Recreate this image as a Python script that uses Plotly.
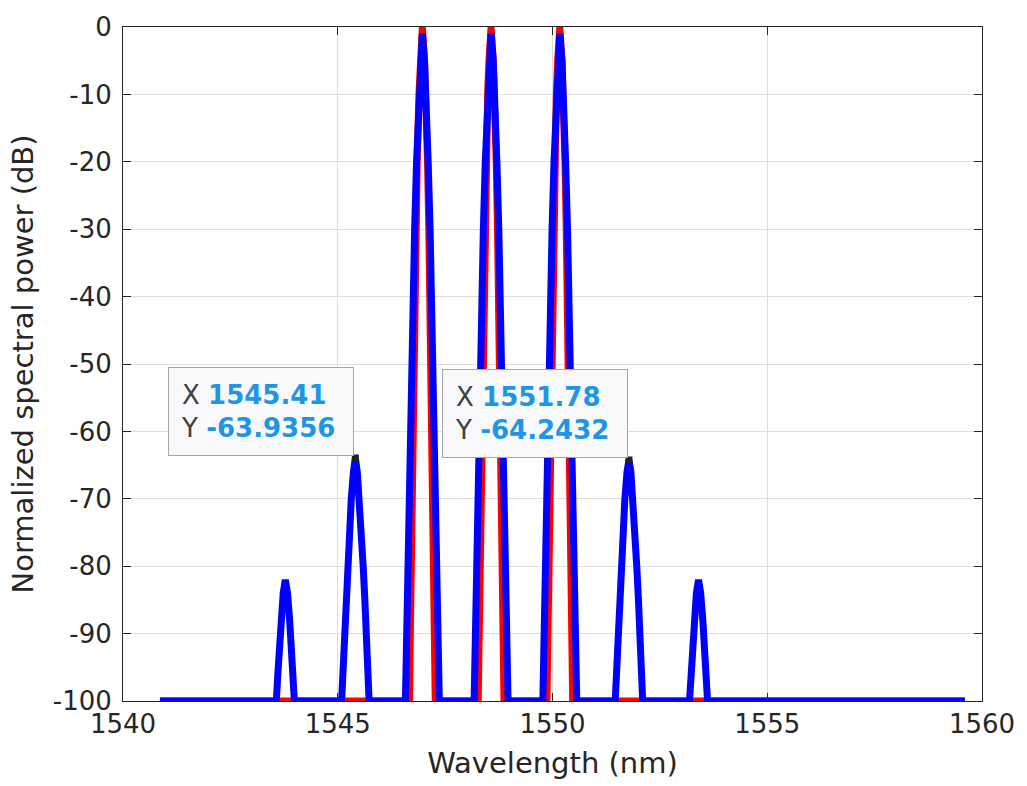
import plotly.graph_objects as go

# ---- data ----
# Blue trace (wavelength in nm, normalized power in dB)
blue_wl = [
    1540.86,
    1543.57, 1543.605, 1543.64, 1543.68, 1543.73, 1543.78, 1543.83, 1543.88, 1543.92, 1543.955, 1543.99,
    1545.09, 1545.122, 1545.155, 1545.189, 1545.228, 1545.268, 1545.315, 1545.365, 1545.41,
    1545.455, 1545.505, 1545.552, 1545.592, 1545.631, 1545.665, 1545.698, 1545.73,
    1546.575, 1546.602, 1546.63, 1546.66, 1546.69, 1546.72, 1546.755, 1546.79, 1546.835, 1546.885, 1546.92, 1546.97,
    1547.02, 1547.055, 1547.105, 1547.15, 1547.185, 1547.22, 1547.25, 1547.28, 1547.31, 1547.338, 1547.365,
    1548.175, 1548.202, 1548.23, 1548.26, 1548.29, 1548.32, 1548.355, 1548.39, 1548.435, 1548.485, 1548.52, 1548.57,
    1548.62, 1548.655, 1548.705, 1548.75, 1548.785, 1548.82, 1548.85, 1548.88, 1548.91, 1548.938, 1548.965,
    1549.775, 1549.802, 1549.83, 1549.86, 1549.89, 1549.92, 1549.955, 1549.99, 1550.035, 1550.085, 1550.12, 1550.17,
    1550.22, 1550.255, 1550.305, 1550.35, 1550.385, 1550.42, 1550.45, 1550.48, 1550.51, 1550.538, 1550.565,
    1551.46, 1551.492, 1551.525, 1551.559, 1551.598, 1551.638, 1551.685, 1551.735, 1551.78,
    1551.825, 1551.875, 1551.922, 1551.962, 1552.001, 1552.035, 1552.068, 1552.1,
    1553.19, 1553.225, 1553.26, 1553.30, 1553.35, 1553.40, 1553.45, 1553.50, 1553.54, 1553.575, 1553.61,
    1559.60,
]
blue_db = [
    -100,
    -100, -96, -92, -88, -84, -82, -84, -88, -92, -96, -100,
    -100, -95, -90, -85, -80, -75, -70, -66, -63.9356,
    -66, -70, -75, -80, -85, -90, -95, -100,
    -100, -90, -80, -70, -60, -50, -40, -30, -20, -10, -5, -1,
    -5, -10, -20, -30, -40, -50, -60, -70, -80, -90, -100,
    -100, -90, -80, -70, -60, -50, -40, -30, -20, -10, -5, -1,
    -5, -10, -20, -30, -40, -50, -60, -70, -80, -90, -100,
    -100, -90, -80, -70, -60, -50, -40, -30, -20, -10, -5, -1,
    -5, -10, -20, -30, -40, -50, -60, -70, -80, -90, -100,
    -100, -95, -90, -85, -80, -75, -70, -66, -64.2432,
    -66, -70, -75, -80, -85, -90, -95, -100,
    -100, -96, -92, -88, -84, -82, -84, -88, -92, -96, -100,
    -100,
]

# Red trace (three main channels only)
red_wl = [
    1540.86,
    1546.67, 1546.69, 1546.71, 1546.735, 1546.76, 1546.775, 1546.795, 1546.82, 1546.85, 1546.89, 1546.92, 1546.97,
    1547.02, 1547.05, 1547.09, 1547.12, 1547.145, 1547.165, 1547.18, 1547.205, 1547.23, 1547.25, 1547.27,
    1548.27, 1548.29, 1548.31, 1548.335, 1548.36, 1548.375, 1548.395, 1548.42, 1548.45, 1548.49, 1548.52, 1548.57,
    1548.62, 1548.65, 1548.69, 1548.72, 1548.745, 1548.765, 1548.78, 1548.805, 1548.83, 1548.85, 1548.87,
    1549.87, 1549.89, 1549.91, 1549.935, 1549.96, 1549.975, 1549.995, 1550.02, 1550.05, 1550.09, 1550.12, 1550.17,
    1550.22, 1550.25, 1550.29, 1550.32, 1550.345, 1550.365, 1550.38, 1550.405, 1550.43, 1550.45, 1550.47,
    1559.60,
]
red_db = [
    -100,
    -100, -90, -80, -70, -60, -50, -40, -30, -20, -10, -5, 0,
    -5, -10, -20, -30, -40, -50, -60, -70, -80, -90, -100,
    -100, -90, -80, -70, -60, -50, -40, -30, -20, -10, -5, 0,
    -5, -10, -20, -30, -40, -50, -60, -70, -80, -90, -100,
    -100, -90, -80, -70, -60, -50, -40, -30, -20, -10, -5, 0,
    -5, -10, -20, -30, -40, -50, -60, -70, -80, -90, -100,
    -100,
]

# Data tips
tip_x = [1545.41, 1551.78]
tip_y = [-63.9356, -64.2432]
tip_x_labels = ["1545.41", "1551.78"]
tip_y_labels = ["-63.9356", "-64.2432"]

x_ticks = [1540, 1545, 1550, 1555, 1560]
y_ticks = [-100, -90, -80, -70, -60, -50, -40, -30, -20, -10, 0]

AX = "#262626"
FONT = "DejaVu Sans"

fig = go.Figure()
fig.add_trace(go.Scatter(x=red_wl, y=red_db, mode="lines",
                         line=dict(color="#ff0000", width=7),
                         cliponaxis=False, showlegend=False, hoverinfo="skip"))
fig.add_trace(go.Scatter(x=blue_wl, y=blue_db, mode="lines",
                         line=dict(color="#0000ff", width=7),
                         cliponaxis=False, showlegend=False, hoverinfo="skip"))
fig.add_trace(go.Scatter(x=tip_x, y=tip_y, mode="markers",
                         marker=dict(symbol="square", size=7, color="#222222"),
                         cliponaxis=False, showlegend=False, hoverinfo="skip"))

for tx, ty, lx, ly in zip(tip_x, tip_y, tip_x_labels, tip_y_labels):
    fig.add_annotation(
        x=tx, y=ty, xref="x", yref="y", xanchor="right", yanchor="bottom",
        showarrow=False, align="left", valign="middle", yshift=2, xshift=-1,
        text=(f"X <b><span style='color:#1E96E6'>{lx}</span></b><br>"
              f"Y <b><span style='color:#1E96E6'>{ly}</span></b>"),
        font=dict(family=FONT, size=26, color="#404040"),
        bgcolor="#f9f9fb", bordercolor="#a6a6a6", borderwidth=1,
        borderpad=12, width=160, height=63,
    )

fig.update_layout(
    width=1027, height=786,
    margin=dict(l=123, r=42, t=20, b=85),
    paper_bgcolor="white", plot_bgcolor="white",
    font=dict(family=FONT, color=AX),
)
fig.update_xaxes(
    range=[1540, 1560], tickvals=x_ticks, ticktext=[str(v) for v in x_ticks],
    showline=True, linecolor=AX, linewidth=1, mirror="ticks",
    ticks="inside", ticklen=8, tickcolor=AX,
    showgrid=True, gridcolor="#dedede", gridwidth=1, zeroline=False,
    tickfont=dict(family=FONT, size=26, color=AX),
    title=dict(text="Wavelength (nm)", font=dict(family=FONT, size=29, color=AX), standoff=14),
)
fig.update_yaxes(
    range=[-100, 0], tickvals=y_ticks, ticktext=[str(v) for v in y_ticks],
    showline=True, linecolor=AX, linewidth=1, mirror="ticks",
    ticks="inside", ticklen=8, tickcolor=AX, ticklabelstandoff=5,
    showgrid=True, gridcolor="#dedede", gridwidth=1, zeroline=False,
    tickfont=dict(family=FONT, size=26, color=AX),
    title=dict(text="Normalized spectral power (dB)", font=dict(family=FONT, size=29, color=AX), standoff=10),
)

fig.write_html("out.html")
